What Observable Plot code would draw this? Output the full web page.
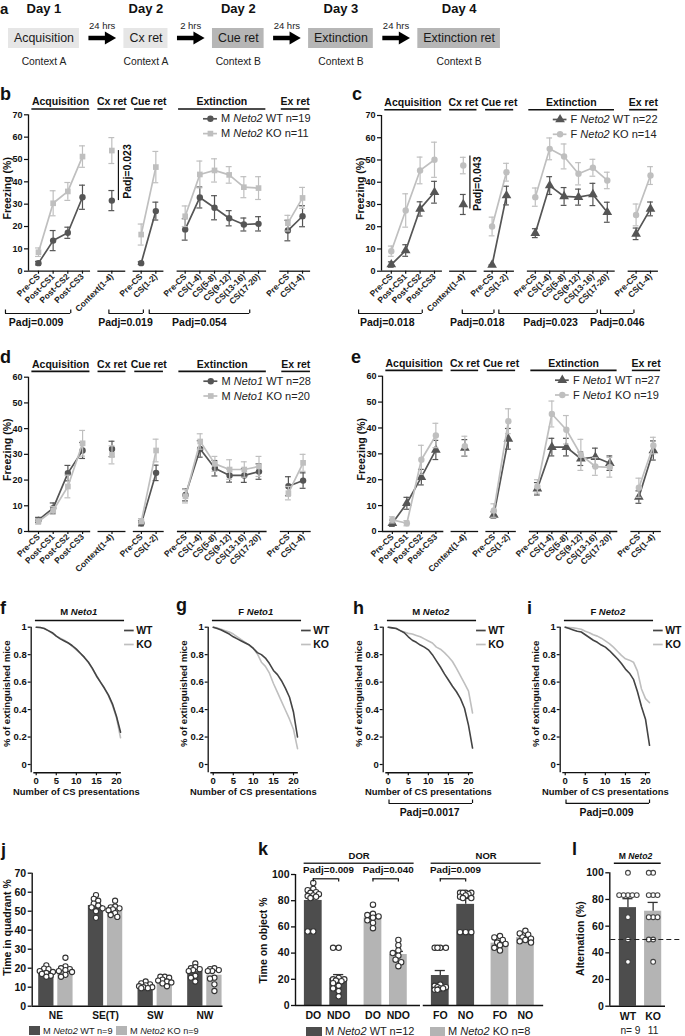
<!DOCTYPE html>
<html><head><meta charset="utf-8">
<script src="https://cdn.jsdelivr.net/npm/d3@7"></script>
<script src="https://cdn.jsdelivr.net/npm/@observablehq/plot@0.6"></script>
<style>
html,body{margin:0;padding:0;background:#fff;}
body{width:685px;height:1036px;overflow:hidden;position:relative;font-family:"Liberation Sans",Arial,Helvetica,sans-serif;}
.pl{position:absolute;}
.pl svg{overflow:visible;display:block;}
.lt{position:absolute;font-weight:bold;font-size:18px;line-height:1;color:#111;}
.lg{position:absolute;color:#222;white-space:nowrap;line-height:12px;}
.sw{display:inline-block;height:9px;vertical-align:-1px;margin-right:3px;}
</style></head><body>
<script>
// ---------------- DATA ----------------
// Panel a
const stages = ["Acquisition","Cx ret","Cue ret","Extinction","Extinction ret"];
const stageDays = ["Day 1","Day 2","Day 2","Day 3","Day 4"];
const stageContexts = ["Context A","Context A","Context B","Context B","Context B"];
const intervals = ["24 hrs","2 hrs","24 hrs","24 hrs"];

// Panels b-e (freezing %)
const phaseNames = ["Acquisition","Cx ret","Cue ret","Extinction","Ex ret"];
const freezeCats = ["Pre-CS","Post-CS1","Post-CS2","Post-CS3","Context(1-4)","Pre-CS","CS(1-2)","Pre-CS","CS(1-4)","CS(5-8)","CS(9-12)","CS(13-16)","CS(17-20)","Pre-CS","CS(1-4)"];
const freezePhase = [0,0,0,0,1,2,2,3,3,3,3,3,3,4,4];

const bWT   = [3.6,13.7,17.2,33.1,31.6,3.6,26.9,18.7,33.0,28.4,23.7,20.9,21.2,18.2,24.6];
const bWTse = [0.8,4.5,2.5,5.4,4.5,0.6,4.0,4.8,4.7,5.4,3.4,2.9,3.2,4.6,4.7];
const bKO   = [8.5,30.4,35.7,51.3,54.0,16.4,46.6,24.6,43.3,45.1,43.1,37.6,37.2,21.5,32.8];
const bKOse = [1.9,5.6,4.0,4.8,5.8,4.7,7.0,4.6,6.0,5.2,3.7,4.7,5.1,3.5,4.7];
const bLegend = ["M Neto2 WT n=19","M Neto2 KO n=11"];

const cWT   = [3.0,9.3,28.0,35.5,30.0,2.8,34.0,17.1,38.5,33.6,33.3,34.5,26.5,16.8,28.0];
const cWTse = [1.2,2.6,3.2,4.9,4.5,0,4.2,2.0,4.0,4.0,3.6,5.0,4.5,2.6,3.1];
const cKO   = [9.0,27.3,45.3,50.1,47.5,20.1,44.5,33.3,55.0,51.6,43.8,46.5,40.8,25.3,43.0];
const cKOse = [2.3,7.5,6.0,7.9,3.7,4.2,4.0,4.1,4.9,5.6,5.0,3.8,3.7,4.9,4.0];
const cLegend = ["F Neto2 WT n=22","F Neto2 KO n=14"];

const dWT   = [4.5,9.1,22.7,31.5,32.1,3.2,22.8,14.2,32.1,24.6,21.8,21.8,23.3,17.6,19.8];
const dWTse = [1.0,2.0,3.0,3.1,3.0,1.0,3.0,2.3,3.2,3.0,2.6,2.7,3.0,3.7,3.0];
const dKO   = [3.9,8.2,17.5,34.3,29.8,4.0,31.5,13.7,35.0,26.3,24.1,24.1,25.3,14.9,26.7];
const dKOse = [1.0,1.5,4.4,5.0,3.5,1.0,4.4,2.6,3.0,2.9,3.8,3.0,3.9,2.6,3.3];
const dLegend = ["M Neto1 WT n=28","M Neto1 KO n=20"];

const eWT   = [3.2,10.9,21.0,31.5,32.3,6.4,35.8,16.5,32.6,32.6,28.1,28.7,26.4,13.3,31.3];
const eWTse = [1.2,2.3,3.0,3.7,3.2,1.2,4.0,2.4,3.4,3.4,2.6,3.5,2.8,2.4,3.7];
const eKO   = [4.5,3.2,27.7,37.1,33.0,8.1,42.6,17.4,45.4,39.3,29.6,25.1,24.8,16.9,33.2];
const eKOse = [1.2,1.0,5.6,4.7,3.8,2.6,4.8,2.6,5.0,5.5,6.0,3.4,3.8,3.7,3.2];
const eLegend = ["F Neto1 WT n=27","F Neto1 KO n=19"];

// Panels f-i (fraction of extinguished mice vs CS number)
const csN = [0,1,2,3,4,5,6,7,8,9,10,11,12,13,14,15,16,17,18,19,20,21];
const fWT = [1,0.998,0.99,0.975,0.96,0.935,0.915,0.9,0.885,0.865,0.84,0.81,0.78,0.745,0.7,0.645,0.6,0.555,0.505,0.44,0.35,0.235];
const fKO = [1,0.998,0.99,0.975,0.955,0.935,0.92,0.905,0.885,0.86,0.835,0.81,0.78,0.745,0.695,0.65,0.6,0.555,0.5,0.43,0.34,0.195];
const gWT = [1,0.99,0.98,0.965,0.95,0.93,0.915,0.9,0.885,0.87,0.845,0.815,0.8,0.775,0.735,0.685,0.655,0.61,0.555,0.49,0.38,0.2];
const gKO = [1,0.995,0.985,0.975,0.965,0.95,0.93,0.91,0.89,0.87,0.845,0.805,0.745,0.715,0.665,0.59,0.525,0.46,0.395,0.33,0.255,0.115];
const hWT = [1,0.995,0.99,0.975,0.96,0.93,0.905,0.89,0.87,0.855,0.835,0.8,0.755,0.71,0.66,0.615,0.57,0.53,0.48,0.41,0.285,0.12];
const hKO = [1,0.995,0.99,0.975,0.965,0.955,0.95,0.94,0.93,0.915,0.9,0.885,0.855,0.84,0.815,0.785,0.75,0.7,0.645,0.59,0.535,0.375];
const iWT = [1,0.99,0.98,0.97,0.965,0.945,0.925,0.905,0.89,0.87,0.855,0.83,0.8,0.77,0.735,0.695,0.665,0.62,0.53,0.42,0.33,0.14];
const iKO = [1,0.998,0.995,0.99,0.985,0.97,0.96,0.945,0.935,0.92,0.9,0.88,0.855,0.825,0.795,0.77,0.76,0.745,0.68,0.55,0.48,0.45];

// Panel j
const quadrants = ["NE","SE(T)","SW","NW"];
const jWTmean = [18.1,53.0,10.8,18.2];
const jKOmean = [19.3,50.8,13.5,16.3];
const jWTdots = [[21.5,19.8,19.5,18.5,18,17.5,17,16,15.5],[58.5,56.5,55.5,54,53,52,51.5,50,46.5],[13,12,11.5,11,10.5,10,10,9.5,9.5],[22.5,20.5,20,19.5,19,18.5,16,15,13]];
const jKOdots = [[25.5,21,20,19.5,19,18.5,18,16.5,15.5],[55.5,52.5,52,51.5,51,50.5,49,48,47],[15.5,15.5,15,14,13.5,13,12.5,12,10.5],[20,19.5,19,18.5,18.5,15,14.5,11.5,8]];
const jLegend = ["M Neto2 WT n=9","M Neto2 KO n=9"];

// Panel k
const kTests = ["DOR","NOR"];
const kObjects = ["DO","NDO","DO","NDO","FO","NO","FO","NO"];
const kTestIdx = [0,0,0,0,1,1,1,1];
const kGeno = ["WT","WT","KO","KO","WT","WT","KO","KO"];
const kMean = [80.2,20.6,66.9,38.9,22.9,77.2,47.6,51.8];
const kSe = [3.0,3.0,1.8,2.4,3.8,4.5,1.8,1.6];
const kDots = [
  [93.5,89,88,86.5,86,85,84,83.5,83,82,56.5,56.5],
  [44,44,21,20,20,19,18.5,17,15,13,11,7],
  [77,70,69,68,67,65,63,59],
  [50,46,42,40,38,35,33,30],
  [44,44,44,44,16,15,14,14,13,13,12,12],
  [86,86,86,86,85,84,83,82,82,56,56,56],
  [53,52,50,48,47,46,44,42],
  [57,55,54,52,51,50,49,48]
];
const kPadj = [{a:0,b:1,t:"Padj=0.009"},{a:2,b:3,t:"Padj=0.040"},{a:4,b:5,t:"Padj=0.009"}];
const kLegend = ["M Neto2 WT n=12","M Neto2 KO n=8"];

// Panel l
const lGeno = ["WT","KO"];
const lMean = [73.9,71.2];
const lSe = [6.7,6.6];
const lN = ["n= 9","11"];
const lDots = [[100,83.3,83.3,83.3,83.3,83.3,66.7,50,33.3],[100,100,83.3,83.3,83.3,66.7,66.7,66.7,50,50,33.3]];
const lChance = 50;

// ---------------- HELPERS ----------------
const FONT = '"Liberation Sans", Arial, Helvetica, sans-serif';
const WTC = "#555555", KOC = "#bfbfbf";
const WTBAR = "#4d4d4d", KOBAR = "#b4b4b4";
const INK = "#111";
const STYLE = {fontFamily: FONT, fontSize: "10px", color: INK, background: "none", overflow: "visible", maxWidth: "none"};

function italicize(svg) {
  svg.querySelectorAll("text").forEach(t => {
    if (t.children.length === 0 && /Neto\d/.test(t.textContent)) {
      t.innerHTML = t.textContent.replace(/(Neto\d)/g, '<tspan font-style="italic">$1</tspan>');
    }
  });
}
function place(svg, left, top) {
  const d = document.createElement("div");
  d.className = "pl"; d.style.left = left + "px"; d.style.top = top + "px";
  d.appendChild(svg); document.body.appendChild(d);
  italicize(svg);
}
function letter(ch, left, top, fs) {
  const d = document.createElement("div");
  d.className = "lt"; d.textContent = ch; d.style.left = left + "px"; d.style.top = top + "px";
  if (fs) d.style.fontSize = fs;
  document.body.appendChild(d);
}
function legendItem(text, color, left, top, swW, fs) {
  const d = document.createElement("div");
  d.className = "lg"; d.style.left = left + "px"; d.style.top = top + "px"; d.style.fontSize = fs + "px";
  d.innerHTML = `<span class="sw" style="width:${swW}px;background:${color}"></span>` + text.replace(/(Neto\d)/, "<i>$1</i>");
  document.body.appendChild(d);
}
// deterministic dot layout within a bar (pixel offsets), bounded by maxOff
function swarm(vals, ppy, step, minD, maxOff) {
  const idx = vals.map((v, i) => i).sort((a, b) => vals[b] - vals[a]);
  const placed = []; const off = new Array(vals.length).fill(0);
  const cands = [0];
  for (let k = 1; k * step <= maxOff + 1e-9; k++) { cands.push(-k * step, k * step); }
  for (const i of idx) {
    const y = vals[i] * ppy;
    let best = null, bestD = -1;
    for (const c of cands) {
      const dmin = placed.length ? d3.min(placed, p => Math.hypot(p.x - c, p.y - y)) : Infinity;
      if (dmin >= minD) { best = c; break; }
      if (dmin > bestD) { bestD = dmin; best = c; }
    }
    off[i] = best; placed.push({x: best, y});
  }
  return off;
}

// ---------------- PANEL a ----------------
(function () {
  const ctx = document.createElement("canvas").getContext("2d");
  ctx.font = "12.4px " + FONT;
  const boxes = []; let cur = 8;
  stages.forEach((s, i) => {
    const w = ctx.measureText(s).width + 11;
    const fill = stageContexts[i] === "Context A" ? "#e6e6e6" : "#b6b6b6";
    boxes.push({name: s, day: stageDays[i], ctx: stageContexts[i], l: cur, r: cur + w, c: cur + w / 2, y1: 28, y2: 48, ty: 38, dy: 8.5, cy: 61.5, fill});
    cur += w + 44.5;
  });
  const arrows = intervals.map((t, i) => {
    const x1 = boxes[i].r + 9, tip = boxes[i + 1].l - 8;
    return {label: t, x1, x2: tip - 9, hx: tip - 7.3, y: 37.5, c: (x1 + tip) / 2, ly: 25};
  });
  const svg = Plot.plot({
    width: 685, height: 75, margin: 0,
    x: {domain: [0, 685], range: [0, 685], axis: null},
    y: {domain: [0, 75], range: [0, 75], axis: null},
    style: STYLE,
    marks: [
      Plot.rect(boxes, {x1: "l", x2: "r", y1: "y1", y2: "y2", fill: "fill"}),
      Plot.text(boxes, {x: "c", y: "ty", text: "name", fontSize: 12.4, fill: "#1a1a1a"}),
      Plot.text(boxes, {x: "c", y: "dy", text: "day", fontSize: 13, fontWeight: "bold"}),
      Plot.text(boxes, {x: "c", y: "cy", text: "ctx", fontSize: 10.3, fill: "#222"}),
      Plot.link(arrows, {x1: "x1", x2: "x2", y1: "y", y2: "y", stroke: "#000", strokeWidth: 4.5}),
      Plot.dot(arrows, {x: "hx", y: "y", symbol: "triangle", r: 4.8, rotate: 90, fill: "#000"}),
      Plot.text(arrows, {x: "c", y: "ly", text: "label", fontSize: 9.5, fill: "#222"})
    ]
  });
  place(svg, 0, 0);
})();

// ---------------- PANELS b-e ----------------
function freezePanel(o) {
  const x0 = -0.68, x1 = 18.8;
  const ppy = o.plotH / o.ymax;
  const plotW = (x1 - x0) * o.unit;
  const pos = freezeCats.map((c, i) => i + freezePhase[i]);
  const mkRows = (vals, se) => vals.map((v, i) => ({x: pos[i], y: v, lo: v - se[i], hi: v + se[i], cl: pos[i] - 0.2, cr: pos[i] + 0.2, ph: freezePhase[i]}));
  const wt = mkRows(o.wt, o.wtSe), ko = mkRows(o.ko, o.koSe);
  const groups = phaseNames.map((name, k) => {
    const ps = pos.filter((p, i) => freezePhase[i] === k);
    const mn = d3.min(ps), mx = d3.max(ps), single = ps.length === 1;
    return {name, m: (mn + mx) / 2,
      a1: k === 0 ? x0 : mn - (single ? 0.95 : 0.55), a2: mx + (single ? 0.95 : 0.55),
      h1: mn - (single ? 0.95 : 0.45), h2: mx + (single ? 0.95 : 0.5),
      yt: o.ymax + 12.8 / ppy, yl: o.ymax + 5.8 / ppy, y0: 0};
  });
  const marks = [];
  marks.push(Plot.text(groups, {x: "m", y: "yt", text: "name", fontWeight: "bold", fontSize: 10.5}));
  marks.push(Plot.ruleY(groups, {y: "yl", x1: "h1", x2: "h2", stroke: INK, strokeWidth: 1.6}));
  marks.push(Plot.ruleX([{x: x0, y1: 0, y2: o.ymax}], {x: "x", y1: "y1", y2: "y2", stroke: INK, strokeWidth: 1.3}));
  marks.push(Plot.ruleY(groups, {y: "y0", x1: "a1", x2: "a2", stroke: INK, strokeWidth: 1.3}));
  marks.push(Plot.axisY({ticks: d3.range(0, o.ymax + 1, 10), tickSize: 4, tickPadding: 2, label: null, fontWeight: "bold", fontSize: 9, strokeWidth: 1.2}));
  marks.push(Plot.axisX({ticks: pos, tickFormat: d => freezeCats[pos.indexOf(d)], tickRotate: -45, tickSize: 3, tickPadding: 1, label: null, fontWeight: "bold", fontSize: 8.5, fill: "#222", strokeWidth: 1.2}));
  marks.push(Plot.text([{x: x0 - (o.marginLeft - 7.5) / o.unit, y: o.ymax * 0.53, t: "Freezing (%)"}], {x: "x", y: "y", text: "t", rotate: -90, fontWeight: "bold", fontSize: 10.5}));
  [[wt, WTC, o.wtSym], [ko, KOC, o.koSym]].forEach(([rows, col, sym]) => {
    marks.push(Plot.ruleX(rows, {x: "x", y1: "lo", y2: "hi", stroke: col, strokeWidth: 1.2}));
    marks.push(Plot.ruleY(rows, {y: "hi", x1: "cl", x2: "cr", stroke: col, strokeWidth: 1.2}));
    marks.push(Plot.ruleY(rows, {y: "lo", x1: "cl", x2: "cr", stroke: col, strokeWidth: 1.2}));
    marks.push(Plot.line(rows, {x: "x", y: "y", z: "ph", stroke: col, strokeWidth: 1.7}));
    marks.push(Plot.dot(rows, {x: "x", y: "y", symbol: sym, r: sym === "triangle" ? 3.6 : 3.2, fill: col}));
  });
  o.legend.forEach((t, i) => {
    const item = [{t, y: o.ymax - (4 + 14.8 * i) / ppy, lx1: 11.25, lx2: 12.2, dx: 11.72, tx: 12.45}];
    const col = i ? KOC : WTC, sym = i ? o.koSym : o.wtSym;
    marks.push(Plot.ruleY(item, {y: "y", x1: "lx1", x2: "lx2", stroke: col, strokeWidth: 1.7}));
    marks.push(Plot.dot(item, {x: "dx", y: "y", symbol: sym, r: sym === "triangle" ? 3.6 : 3.2, fill: col}));
    marks.push(Plot.text(item, {x: "tx", y: "y", text: "t", textAnchor: "start", fontSize: 11, fill: "#222"}));
  });
  if (o.vann) {
    const v = o.vann;
    marks.push(Plot.ruleX([v], {x: "x", y1: "y1", y2: "y2", stroke: INK, strokeWidth: 1.2}));
    marks.push(Plot.text([v], {x: "xt", y: "yt", text: "t", rotate: -90, fontWeight: "bold", fontSize: 10.5}));
  }
  if (o.brackets) {
    const yb = -42.3 / ppy, yt = -51.8 / ppy, ytop = yb + 3.5 / ppy;
    const br = o.brackets.map(b => ({...b, yb, yt, ytop}));
    marks.push(Plot.ruleY(br, {y: "yb", x1: "x1", x2: "x2", stroke: INK, strokeWidth: 1.2}));
    marks.push(Plot.ruleX(br, {x: "x1", y1: "yb", y2: "ytop", stroke: INK, strokeWidth: 1.2}));
    marks.push(Plot.ruleX(br, {x: "x2", y1: "yb", y2: "ytop", stroke: INK, strokeWidth: 1.2}));
    marks.push(Plot.text(br, {x: "xt", y: "yt", text: "t", fontWeight: "bold", fontSize: 10.5}));
  }
  const svg = Plot.plot({
    width: o.width, height: o.height,
    marginLeft: o.marginLeft, marginRight: o.width - o.marginLeft - plotW,
    marginTop: o.marginTop, marginBottom: o.height - o.marginTop - o.plotH,
    x: {domain: [x0, x1]}, y: {domain: [0, o.ymax]},
    style: STYLE, marks
  });
  place(svg, o.left, o.top);
}

freezePanel({left: 0, top: 92, width: 340, height: 238, marginLeft: 28, marginTop: 22.3, plotH: 156.4, unit: 14.67, ymax: 70,
  wt: bWT, wtSe: bWTse, ko: bKO, koSe: bKOse, wtSym: "circle", koSym: "square", legend: bLegend,
  vann: {x: 5.45, xt: 6.07, y1: 54, y2: 31.6, yt: 44.6, t: "Padj=0.023"},
  brackets: [{x1: -2.25, x2: 2.2, xt: -0.16, t: "Padj=0.009"}, {x1: 4.8, x2: 7.15, xt: 5.93, t: "Padj=0.019"}, {x1: 7.55, x2: 14.4, xt: 10.97, t: "Padj=0.054"}]});
freezePanel({left: 352.7, top: 92, width: 330, height: 238, marginLeft: 28, marginTop: 23, plotH: 155.7, unit: 14.4, ymax: 70,
  wt: cWT, wtSe: cWTse, ko: cKO, koSe: cKOse, wtSym: "triangle", koSym: "circle", legend: cLegend,
  vann: {x: 5.46, xt: 6.0, y1: 51.8, y2: 28.0, yt: 39.3, t: "Padj=0.043"},
  brackets: [{x1: -2.27, x2: 2.15, xt: -0.28, t: "Padj=0.018"}, {x1: 4.93, x2: 7.13, xt: 5.97, t: "Padj=0.018"}, {x1: 7.47, x2: 14.3, xt: 11.06, t: "Padj=0.023"}, {x1: 14.53, x2: 16.85, xt: 15.69, t: "Padj=0.046"}]});
freezePanel({left: 0, top: 350, width: 340, height: 228, marginLeft: 28, marginTop: 26.7, plotH: 154.3, unit: 14.7, ymax: 60,
  wt: dWT, wtSe: dWTse, ko: dKO, koSe: dKOse, wtSym: "circle", koSym: "square", legend: dLegend});
freezePanel({left: 354.3, top: 350, width: 330, height: 228, marginLeft: 28, marginTop: 25.7, plotH: 155.3, unit: 14.5, ymax: 60,
  wt: eWT, wtSe: eWTse, ko: eKO, koSe: eKOse, wtSym: "triangle", koSym: "circle", legend: eLegend});

// ---------------- PANELS f-i ----------------
function survPanel(o) {
  const unit = 4.015, x0 = -1.25, x1 = 21.2, ppy = 137.3, y0 = -0.06;
  const marginLeft = 30.7, marginTop = 28.7, height = 222;
  const plotW = (x1 - x0) * unit, plotH = (1 - y0) * ppy;
  const width = Math.min(170, 685 - o.left);
  const wt = csN.map((x, i) => ({x, y: o.wt[i]})), ko = csN.map((x, i) => ({x, y: o.ko[i]}));
  const pxY = px => 1 - (px - 626.7) / ppy;
  const marks = [
    Plot.ruleX([{x: x0, y1: y0, y2: 1}], {x: "x", y1: "y1", y2: "y2", stroke: INK, strokeWidth: 1.3}),
    Plot.ruleY([{y: y0, x1: -0.6, x2: x1}], {y: "y", x1: "x1", x2: "x2", stroke: INK, strokeWidth: 1.3}),
    Plot.axisY({ticks: [0, 0.2, 0.4, 0.6, 0.8, 1], tickFormat: d => d === 0 ? "0" : d === 1 ? "1" : d.toFixed(1), tickSize: 3, tickPadding: 1.5, label: null, fontWeight: "bold", fontSize: 9.5, strokeWidth: 1.2}),
    Plot.axisX({ticks: [0, 5, 10, 15, 20], tickSize: 3, tickPadding: 1.5, label: null, fontWeight: "bold", fontSize: 9.5, strokeWidth: 1.2}),
    Plot.line(ko, {x: "x", y: "y", stroke: KOC, strokeWidth: 1.6}),
    Plot.line(wt, {x: "x", y: "y", stroke: "#444", strokeWidth: 1.6}),
    Plot.text([{x: 10.6, y: pxY(611.7), t: o.title}], {x: "x", y: "y", text: "t", fontWeight: "bold", fontSize: 9.5}),
    Plot.ruleY([{y: pxY(620), x1: -0.2, x2: 22}], {y: "y", x1: "x1", x2: "x2", stroke: INK, strokeWidth: 1.5}),
    Plot.ruleY([{y: pxY(630), x1: 22, x2: 24.4}], {y: "y", x1: "x1", x2: "x2", stroke: "#444", strokeWidth: 1.7}),
    Plot.ruleY([{y: pxY(644), x1: 22, x2: 24.4}], {y: "y", x1: "x1", x2: "x2", stroke: KOC, strokeWidth: 1.7}),
    Plot.text([{x: 24.9, y: pxY(630), t: "WT"}, {x: 24.9, y: pxY(644), t: "KO"}], {x: "x", y: "y", text: "t", textAnchor: "start", fontWeight: "bold", fontSize: 10.5}),
    Plot.text([{x: 10, y: pxY(791.7), t: "Number of CS presentations"}], {x: "x", y: "y", text: "t", fontWeight: "bold", fontSize: 9.4}),
    Plot.text([{x: x0 - 24.5 / unit, y: 0.515, t: "% of extinguished mice"}], {x: "x", y: "y", text: "t", rotate: -90, fontWeight: "bold", fontSize: 9.6})
  ];
  if (o.padj) {
    const br = [{x1: 0.2, x2: 21, yb: pxY(803), ytop: pxY(799.5), yt: pxY(812), xt: 10.3, t: o.padj}];
    marks.push(Plot.ruleY(br, {y: "yb", x1: "x1", x2: "x2", stroke: INK, strokeWidth: 1.2}));
    marks.push(Plot.ruleX(br, {x: "x1", y1: "yb", y2: "ytop", stroke: INK, strokeWidth: 1.2}));
    marks.push(Plot.ruleX(br, {x: "x2", y1: "yb", y2: "ytop", stroke: INK, strokeWidth: 1.2}));
    marks.push(Plot.text(br, {x: "xt", y: "yt", text: "t", fontWeight: "bold", fontSize: 10.4}));
  }
  const svg = Plot.plot({
    width, height, marginLeft, marginTop, marginRight: width - marginLeft - plotW, marginBottom: height - marginTop - plotH,
    x: {domain: [x0, x1]}, y: {domain: [y0, 1]}, style: STYLE, marks
  });
  place(svg, o.left, 598);
}
survPanel({left: 0, title: "M Neto1", wt: fWT, ko: fKO});
survPanel({left: 176.6, title: "F Neto1", wt: gWT, ko: gKO});
survPanel({left: 352, title: "M Neto2", wt: hWT, ko: hKO, padj: "Padj=0.0017"});
survPanel({left: 529.3, title: "F Neto2", wt: iWT, ko: iKO, padj: "Padj=0.009"});

// ---------------- PANEL j ----------------
(function () {
  const unit = 19.1, ppy = 1.9, x0 = -1.24, x1 = 8.8;
  const marginLeft = 31.7, marginTop = 27.7, width = 240, height = 177, plotH = 133;
  const bars = [], dots = [];
  quadrants.forEach((q, qi) => {
    [["WT", jWTmean, jWTdots, WTBAR, -0.5], ["KO", jKOmean, jKOdots, KOBAR, 0.5]].forEach(([g, means, dd, col, off]) => {
      const c = qi * 2.6 + off;
      bars.push({l: c - 0.4, r: c + 0.4, z: 0, m: means[qi], fill: col});
      const so = swarm(dd[qi], ppy, 2.2, 3.8, 6.6);
      dd[qi].forEach((v, k) => dots.push({x: c + so[k] / unit, y: v}));
    });
  });
  const ticks = quadrants.map((q, qi) => qi * 2.6);
  const svg = Plot.plot({
    width, height, marginLeft, marginTop, marginRight: width - marginLeft - (x1 - x0) * unit, marginBottom: height - marginTop - plotH,
    x: {domain: [x0, x1]}, y: {domain: [0, 70]}, style: STYLE,
    marks: [
      Plot.rect(bars, {x1: "l", x2: "r", y1: "z", y2: "m", fill: "fill"}),
      Plot.dot(dots, {x: "x", y: "y", r: 2.6, stroke: "#333", strokeWidth: 1.1, fill: "white"}),
      Plot.ruleX([{x: x0, y1: 0, y2: 70}], {x: "x", y1: "y1", y2: "y2", stroke: INK, strokeWidth: 1.4}),
      Plot.ruleY([{y: 0, x1: x0, x2: 8.75}], {y: "y", x1: "x1", x2: "x2", stroke: INK, strokeWidth: 1.4}),
      Plot.axisY({ticks: d3.range(0, 71, 10), tickSize: 4, tickPadding: 2, label: null, fontWeight: "bold", fontSize: 10.5, strokeWidth: 1.3}),
      Plot.axisX({ticks, tickFormat: d => quadrants[ticks.indexOf(d)], tickSize: 0, tickPadding: 6, label: null, fontWeight: "bold", fontSize: 10.2}),
      Plot.text([{x: x0 - 24.5 / unit, y: 41.4, t: "Time in quadrant %"}], {x: "x", y: "y", text: "t", rotate: -90, fontWeight: "bold", fontSize: 10.5})
    ]
  });
  place(svg, 0, 845);
  legendItem(jLegend[0], WTBAR, 29, 1024.5, 11, 9.2);
  legendItem(jLegend[1], KOBAR, 116, 1024.5, 11, 9.2);
})();

// ---------------- PANEL k ----------------
(function () {
  const unit = 25.4, ppy = 1.31, x0 = -0.7, x1 = 9.1;
  const marginLeft = 55, marginTop = 29, width = 306, height = 177, plotH = 131;
  const pos = kObjects.map((o, i) => kTestIdx[i] * 5 + (kGeno[i] === "KO" ? 2.35 : 0) + (i % 2));
  const bars = pos.map((p, i) => ({l: p - 0.35, r: p + 0.35, z: 0, m: kMean[i], fill: kGeno[i] === "WT" ? WTBAR : KOBAR,
    x: p, hi: kMean[i] + kSe[i], cl: p - 0.2, cr: p + 0.2}));
  const dots = [];
  kDots.forEach((dd, i) => { const so = swarm(dd, ppy, 2.8, 4.2, 7.6); dd.forEach((v, k) => dots.push({x: pos[i] + so[k] / unit, y: v})); });
  const hdr = kTests.map((t, ti) => {
    const ps = pos.filter((p, i) => kTestIdx[i] === ti);
    const a = d3.min(ps) - 0.36, b = d3.max(ps) + 0.62;
    return {t, a, b, m: (a + b) / 2, yt: 100 + (874 - 855) / ppy, yl: 100 + (874 - 862.7) / ppy};
  });
  const pj = kPadj.map(d => ({t: d.t, a: pos[d.a], b: pos[d.b], m: (pos[d.a] + pos[d.b]) / 2 + 0.1,
    yb: 100 - (878.3 - 874) / ppy, ydn: 100 - (881.5 - 874) / ppy, yt: 100 + (874 - 869.5) / ppy}));
  const segs = [{y: 0, a: x0, b: 4.22}, {y: 0, a: 4.33, b: 9.07}];
  const svg = Plot.plot({
    width, height, marginLeft, marginTop, marginRight: width - marginLeft - (x1 - x0) * unit, marginBottom: height - marginTop - plotH,
    x: {domain: [x0, x1]}, y: {domain: [0, 100]}, style: STYLE,
    marks: [
      Plot.rect(bars, {x1: "l", x2: "r", y1: "z", y2: "m", fill: "fill"}),
      Plot.ruleX(bars, {x: "x", y1: "m", y2: "hi", stroke: "#333", strokeWidth: 1.3}),
      Plot.ruleY(bars, {y: "hi", x1: "cl", x2: "cr", stroke: "#333", strokeWidth: 1.3}),
      Plot.dot(dots, {x: "x", y: "y", r: 2.7, stroke: "#333", strokeWidth: 1.1, fill: "white"}),
      Plot.ruleX([{x: x0, y1: 0, y2: 100}], {x: "x", y1: "y1", y2: "y2", stroke: INK, strokeWidth: 1.4}),
      Plot.ruleY(segs, {y: "y", x1: "a", x2: "b", stroke: INK, strokeWidth: 1.4}),
      Plot.axisY({ticks: d3.range(0, 101, 20), tickSize: 4, tickPadding: 2, label: null, fontWeight: "bold", fontSize: 10.5, strokeWidth: 1.3}),
      Plot.axisX({ticks: pos, tickFormat: (d, i) => kObjects[i], tickSize: 0, tickPadding: 6, label: null, fontWeight: "bold", fontSize: 10.5}),
      Plot.text(hdr, {x: "m", y: "yt", text: "t", fontWeight: "bold", fontSize: 9.5}),
      Plot.ruleY(hdr, {y: "yl", x1: "a", x2: "b", stroke: "#333", strokeWidth: 1.4}),
      Plot.ruleY(pj, {y: "yb", x1: "a", x2: "b", stroke: INK, strokeWidth: 1.2}),
      Plot.ruleX(pj, {x: "a", y1: "yb", y2: "ydn", stroke: INK, strokeWidth: 1.2}),
      Plot.ruleX(pj, {x: "b", y1: "yb", y2: "ydn", stroke: INK, strokeWidth: 1.2}),
      Plot.text(pj, {x: "m", y: "yt", text: "t", fontWeight: "bold", fontSize: 9.8}),
      Plot.text([{x: x0 - 32 / unit, y: 49.6, t: "Time on object %"}], {x: "x", y: "y", text: "t", rotate: -90, fontWeight: "bold", fontSize: 10.5})
    ]
  });
  place(svg, 240, 845);
  legendItem(kLegend[0], WTBAR, 306, 1024.5, 16, 11);
  legendItem(kLegend[1], KOBAR, 430, 1024.5, 15, 11);
})();

// ---------------- PANEL l ----------------
(function () {
  const unit = 25.2, ppy = 1.334, x0 = -0.72, x1 = 2.2;
  const marginLeft = 49.3, marginTop = 27.3, width = 125, height = 191, plotH = 133.4;
  const bars = lGeno.map((g, i) => ({x: i, l: i - 0.34, r: i + 0.34, z: 0, m: lMean[i], hi: lMean[i] + lSe[i], cl: i - 0.2, cr: i + 0.2,
    fill: g === "WT" ? WTBAR : KOBAR, n: lN[i], ny: -(1030.7 - 1005.7) / ppy, nx: i === 0 ? i + 0.1 : i}));
  const dots = [];
  lDots.forEach((dd, i) => { const so = swarm(dd, ppy, 4.4, 4.3, 9); dd.forEach((v, k) => dots.push({x: i + so[k] / unit, y: v})); });
  const svg = Plot.plot({
    width, height, marginLeft, marginTop, marginRight: width - marginLeft - (x1 - x0) * unit, marginBottom: height - marginTop - plotH,
    x: {domain: [x0, x1]}, y: {domain: [0, 100]}, style: STYLE,
    marks: [
      Plot.rect(bars, {x1: "l", x2: "r", y1: "z", y2: "m", fill: "fill"}),
      Plot.ruleX(bars, {x: "x", y1: "m", y2: "hi", stroke: "#333", strokeWidth: 1.3}),
      Plot.ruleY(bars, {y: "hi", x1: "cl", x2: "cr", stroke: "#333", strokeWidth: 1.3}),
      Plot.dot(dots, {x: "x", y: "y", r: 2.4, stroke: "#444", strokeWidth: 1.1, fill: "white"}),
      Plot.ruleY([{y: lChance, a: -0.68, b: 2.15}], {y: "y", x1: "a", x2: "b", stroke: "#222", strokeWidth: 1.2, strokeDasharray: "5,3"}),
      Plot.ruleX([{x: x0, y1: 0, y2: 100}], {x: "x", y1: "y1", y2: "y2", stroke: INK, strokeWidth: 1.4}),
      Plot.ruleY([{y: 0, a: x0, b: 1.49}], {y: "y", x1: "a", x2: "b", stroke: INK, strokeWidth: 1.4}),
      Plot.axisY({ticks: d3.range(0, 101, 20), tickSize: 4, tickPadding: 2, label: null, fontWeight: "bold", fontSize: 10.5, strokeWidth: 1.3}),
      Plot.axisX({ticks: [0, 1], tickFormat: (d, i) => lGeno[i], tickSize: 0, tickPadding: 6, label: null, fontWeight: "bold", fontSize: 10.5}),
      Plot.text(bars, {x: "nx", y: "ny", text: "n", textAnchor: d => d.x === 0 ? "end" : "middle", fontSize: 10.2, fill: "#222"}),
      Plot.text([{x: 0.3, y: 100 + (872.3 - 856) / ppy, t: "M Neto2"}], {x: "x", y: "y", text: "t", fontWeight: "bold", fontSize: 8.6}),
      Plot.ruleY([{y: 100 + (872.3 - 862.7) / ppy, a: -0.54, b: 1.32}], {y: "y", x1: "a", x2: "b", stroke: INK, strokeWidth: 1.4}),
      Plot.text([{x: x0 - 29.5 / unit, y: 50.7, t: "Alternation (%)"}], {x: "x", y: "y", text: "t", rotate: -90, fontWeight: "bold", fontSize: 10.5})
    ]
  });
  place(svg, 560, 845);
})();

// ---------------- PANEL LETTERS ----------------
letter("a", 0, 1, "15px");
[["b", 0, 84.8], ["c", 352, 84.8], ["d", 0, 347.8], ["e", 351, 347.8], ["f", 0, 598.8], ["g", 176, 595.5],
 ["h", 353, 598.8], ["i", 527, 598.8], ["j", 1, 840.8], ["k", 258, 839.8], ["l", 572, 839.8]].forEach(([c, x, y]) => letter(c, x, y));
</script>
</body></html>
